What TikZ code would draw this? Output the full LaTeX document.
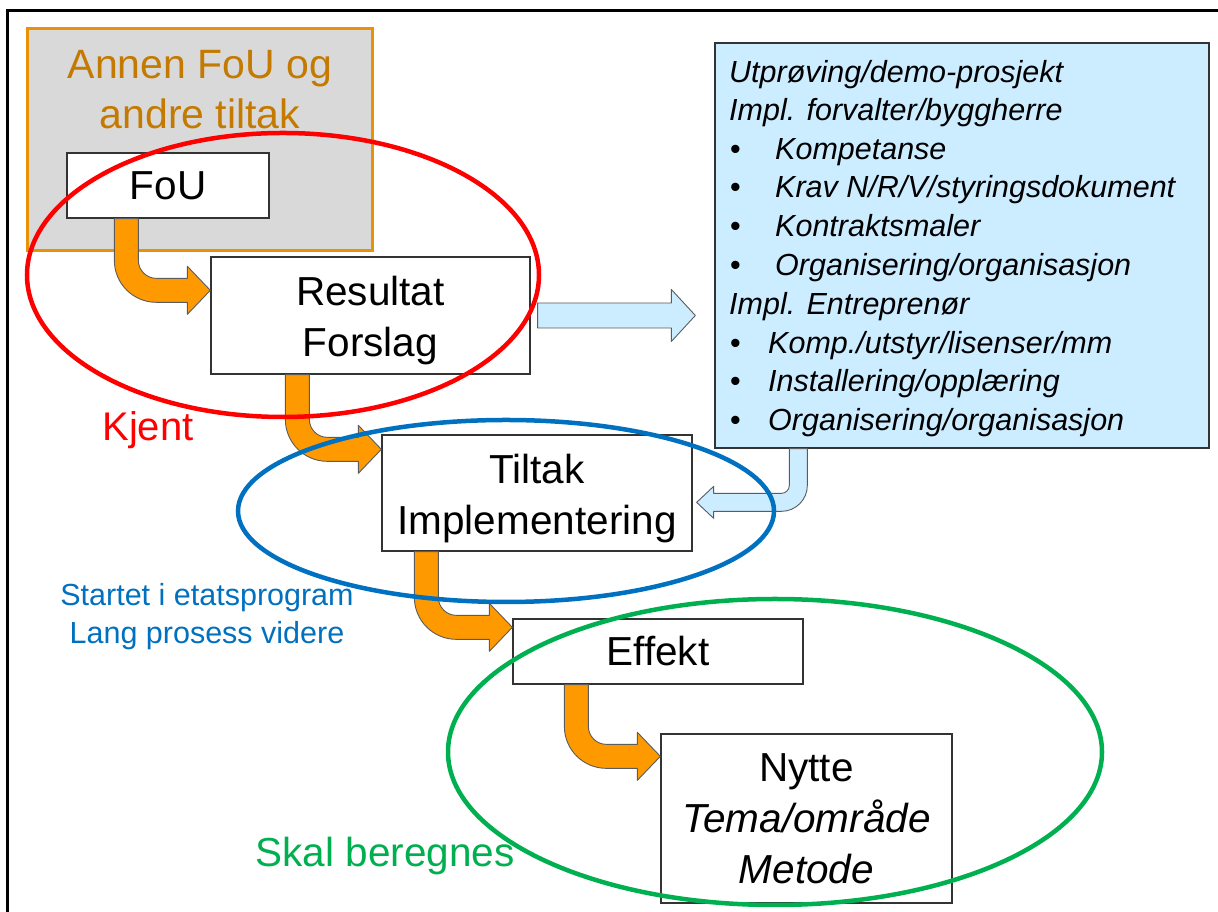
\documentclass[tikz,border=0pt]{standalone}
\usepackage{fontspec}
\setmainfont{Liberation Sans}
\usetikzlibrary{calc}
\definecolor{orfill}{HTML}{FF9900}
\definecolor{lbfill}{HTML}{CCECFF}
\definecolor{grfill}{HTML}{D9D9D9}
\definecolor{grborder}{HTML}{E8920A}
\definecolor{antext}{HTML}{C47A00}
\definecolor{ellred}{HTML}{FF0000}
\definecolor{ellblue}{HTML}{0070C0}
\definecolor{ellgreen}{HTML}{00B050}
\definecolor{edge}{HTML}{333333}
\tikzset{
  box/.style={draw=edge, line width=1.3pt, fill=white, inner sep=0pt, align=center, font=\fontsize{40.5}{51}\selectfont},
  bent/.style={fill=orfill, draw=edge!80, line width=0.9pt, line join=round},
  lbarrow/.style={fill=lbfill, draw=edge!80, line width=0.9pt, line join=round},
  ring/.style={line width=4.5pt},
  bl/.style={anchor=west, inner sep=0pt, text height=21.5pt, text depth=0pt, font=\fontsize{30.5}{38}\selectfont\itshape},
  bul/.style={anchor=west, inner sep=0pt, text height=21.5pt, text depth=0pt, font=\fontsize{30.5}{38}\selectfont},
  lbl/.style={inner sep=0pt, align=center},
}
\newcommand{\bentarrow}[4]{%
  \draw[bent] let \p1=($(#1.south west)+(#2,0)$), \p2=($(#3.north west)+(0,-#4)$) in
  (\x1,\y1) -- (\x1,\y2+30pt) .. controls (\x1,\y2+6.8pt) and (\x1+18.8pt,\y2-12pt) .. (\x1+42pt,\y2-12pt)
  -- (\x2-23pt,\y2-12pt) -- (\x2-23pt,\y2-24pt) -- (\x2,\y2) -- (\x2-23pt,\y2+24pt) -- (\x2-23pt,\y2+12pt)
  -- (\x1+42pt,\y2+12pt) .. controls (\x1+32.06pt,\y2+12pt) and (\x1+24pt,\y2+20.06pt) .. (\x1+24pt,\y2+30pt)
  -- (\x1+24pt,\y1) -- cycle;}
\begin{document}
\begin{tikzpicture}[x=1pt,y=1pt]
\useasboundingbox (0,0) rectangle (1218,912);
\fill[white] (0,0) rectangle (1218,912);
% frame
\draw[line width=3pt] (7,0) -- (7,901) -- (1218,901);
% grey group
\node[draw=grborder, line width=3pt, fill=grfill, minimum width=345pt, minimum height=222pt, inner sep=0pt] (annen) at (199.5,772) {};
\node[lbl, text=antext, font=\fontsize{41}{50}\selectfont] (annentxt) at (200,822) {Annen FoU og\\andre tiltak};
% boxes
\node[box, minimum width=202pt, minimum height=65pt] (fou) at (168,726.5) {FoU};
\node[box, minimum width=319pt, minimum height=117pt] (res) at (370.5,596.5) {\rule{0pt}{39pt}Resultat\\Forslag};
\node[box, minimum width=310pt, minimum height=116pt] (tiltak) at (537,419) {\rule{0pt}{40pt}Tiltak\\Implementering};
\node[box, minimum width=290pt, minimum height=65pt] (effekt) at (658,260.5) {Effekt};
\node[box, minimum width=291pt, minimum height=169pt] (nytte) at (806.5,93.5) {Nytte\\\textit{Tema/område}\\\textit{Metode}};
% blue box
\node[draw=edge, line width=1.3pt, fill=lbfill, minimum width=494pt, minimum height=405pt, inner sep=0pt] (blue) at (962,666.5) {};
\node[bl] (b1) at (729,840) {Utprøving/demo-prosjekt};
\node[bl] (b2) at (729,802) {Impl. forvalter/byggherre};
\node[bul] (d3) at (730,763) {•};
\node[bl] (b3) at (775,763) {Kompetanse};
\node[bul] (d4) at (730,725) {•};
\node[bl] (b4) at (775,725) {Krav N/R/V/styringsdokument};
\node[bul] (d5) at (730,686) {•};
\node[bl] (b5) at (775,686) {Kontraktsmaler};
\node[bul] (d6) at (730,647) {•};
\node[bl] (b6) at (775,647) {Organisering/organisasjon};
\node[bl] (b7) at (729,608) {Impl. Entreprenør};
\node[bul] (d8) at (730,569) {•};
\node[bl] (b8) at (768,569) {Komp./utstyr/lisenser/mm};
\node[bul] (d9) at (730,531) {•};
\node[bl] (b9) at (768,531) {Installering/opplæring};
\node[bul] (d10) at (730,492) {•};
\node[bl] (b10) at (768,492) {Organisering/organisasjon};
% orange bent arrows
\bentarrow{fou}{48pt}{res}{34pt}
\bentarrow{res}{75pt}{tiltak}{15pt}
\bentarrow{tiltak}{33pt}{effekt}{9pt}
\bentarrow{effekt}{52pt}{nytte}{23pt}
% light blue arrows
\draw[lbarrow] let \p1=($(res.east)+(7pt,0)$), \p2=($(res.east -| blue.west)+(-19pt,0)$) in
  (\x1,\y1+12.5pt) -- (\x2-24pt,\y1+12.5pt) -- (\x2-24pt,\y1+26pt) -- (\x2,\y1) -- (\x2-24pt,\y1-26pt) -- (\x2-24pt,\y1-12.5pt) -- (\x1,\y1-12.5pt) -- cycle;
\draw[lbarrow] let \p1=($(blue.south west)+(75pt,0)$), \p2=($(tiltak.north east)+(4pt,-68pt)$) in
  (\x1+18pt,\y1) -- (\x1+18pt,\y2+17pt) .. controls (\x1+18pt,\y2+2.64pt) and (\x1+6.36pt,\y2-9pt) .. (\x1-8pt,\y2-9pt)
  -- (\x2+17pt,\y2-9pt) -- (\x2+17pt,\y2-16pt) -- (\x2,\y2) -- (\x2+17pt,\y2+16pt) -- (\x2+17pt,\y2+9pt)
  -- (\x1-8pt,\y2+9pt) .. controls (\x1-3.58pt,\y2+9pt) and (\x1,\y2+12.58pt) .. (\x1,\y2+17pt) -- (\x1,\y1) -- cycle;
% ellipses
\draw[ring, ellred] (283,637) ellipse [x radius=256, y radius=142];
\draw[ring, ellblue] (506,401) ellipse [x radius=268, y radius=91];
\draw[ring, ellgreen] (775,160) ellipse [x radius=327, y radius=153];
% labels
\node[lbl, text=ellred, font=\fontsize{40}{48}\selectfont] (kjent) at (148,482) {Kjent};
\node[lbl, text=ellblue, font=\fontsize{30.5}{38}\selectfont] (startet) at (207,295) {Startet i etatsprogram\\Lang prosess videre};
\node[lbl, text=ellgreen, font=\fontsize{40.5}{48}\selectfont] (skal) at (385,56) {Skal beregnes};
\end{tikzpicture}
\end{document}
